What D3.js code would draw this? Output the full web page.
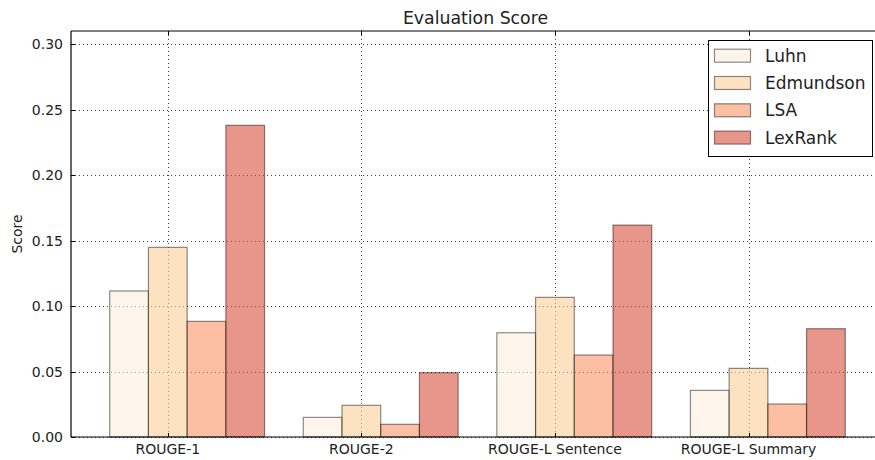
<!DOCTYPE html>
<html>
<head>
<meta charset="utf-8">
<script src="https://cdn.jsdelivr.net/npm/d3@7/dist/d3.min.js"></script>
<style>
  html, body { margin: 0; padding: 0; background: #fff; }
  svg { display: block; font-family: "DejaVu Sans", sans-serif; }
</style>
</head>
<body>
<svg id="chart" width="875" height="460"></svg>
<script>
// Categories and per-method scores
const categories = ["ROUGE-1", "ROUGE-2", "ROUGE-L Sentence", "ROUGE-L Summary"];
const methods = ["Luhn", "Edmundson", "LSA", "LexRank"];
const luhn      = [0.1115, 0.0150, 0.0796, 0.0356];
const edmundson = [0.1448, 0.0242, 0.1066, 0.0524];
const lsa       = [0.0883, 0.0097, 0.0626, 0.0252];
const lexrank   = [0.2380, 0.0491, 0.1618, 0.0827];
const series = [luhn, edmundson, lsa, lexrank];
const yTicks = [0.00, 0.05, 0.10, 0.15, 0.20, 0.25, 0.30];
const colors = ["#fceeda", "#facf96", "#fa9466", "#da503c"];

const svg = d3.select("#chart");
const plotL = 71, plotT = 31, plotB = 437, plotR = 884;
const barW = 0.2;

const x = d3.scaleLinear().domain([-0.3, 3.9]).range([plotL, plotR]);
const y = d3.scaleLinear().domain([0, 0.31]).range([plotB, plotT]);

// Grid lines
const grid = svg.append("g");
grid.selectAll("line.h").data(yTicks).join("line")
  .attr("x1", plotL).attr("x2", plotR)
  .attr("y1", d => Math.round(y(d)) + 0.5).attr("y2", d => Math.round(y(d)) + 0.5)
  .attr("stroke", "#000").attr("stroke-opacity", 0.75)
  .attr("stroke-dasharray", "1,3");
grid.selectAll("line.v").data(categories).join("line")
  .attr("x1", (d, i) => Math.round(x(i + barW)) + 0.5).attr("x2", (d, i) => Math.round(x(i + barW)) + 0.5)
  .attr("y1", plotT).attr("y2", plotB)
  .attr("stroke", "#000").attr("stroke-opacity", 0.75)
  .attr("stroke-dasharray", "1,3");

// Bars
series.forEach((vals, j) => {
  svg.append("g").selectAll("rect").data(vals).join("rect")
    .attr("x", (d, i) => x(i + j * barW - barW / 2))
    .attr("width", x(barW) - x(0))
    .attr("y", d => y(d))
    .attr("height", d => y(0) - y(d))
    .attr("fill", colors[j]).attr("fill-opacity", 0.6)
    .attr("stroke", "#000").attr("stroke-opacity", 0.45).attr("stroke-width", 1.2);
});

// Frame
const frame = svg.append("g").attr("stroke", "#000").attr("stroke-width", 1.2);
frame.append("line").attr("x1", plotL).attr("x2", plotL).attr("y1", plotT).attr("y2", plotB);
frame.append("line").attr("x1", plotL).attr("x2", plotR).attr("y1", plotT).attr("y2", plotT);
frame.append("line").attr("x1", plotL).attr("x2", plotR).attr("y1", plotB).attr("y2", plotB);
frame.append("line").attr("x1", plotR).attr("x2", plotR).attr("y1", plotT).attr("y2", plotB);

// Inward ticks
const ticks = svg.append("g").attr("stroke", "#000").attr("stroke-width", 1);
yTicks.forEach(t => {
  const yy = Math.round(y(t)) + 0.5;
  ticks.append("line").attr("x1", plotL).attr("x2", plotL + 4).attr("y1", yy).attr("y2", yy);
});
categories.forEach((c, i) => {
  const xx = Math.round(x(i + barW)) + 0.5;
  ticks.append("line").attr("x1", xx).attr("x2", xx).attr("y1", plotB).attr("y2", plotB - 4);
  ticks.append("line").attr("x1", xx).attr("x2", xx).attr("y1", plotT).attr("y2", plotT + 4);
});

// Axis labels
svg.append("g").selectAll("text").data(yTicks).join("text")
  .attr("x", plotL - 8).attr("y", d => y(d)).attr("dy", "0.36em")
  .attr("text-anchor", "end").attr("font-size", 14).attr("fill", "#222")
  .text(d => d3.format(".2f")(d));
svg.append("g").selectAll("text").data(categories).join("text")
  .attr("x", (d, i) => x(i + barW)).attr("y", 454)
  .attr("text-anchor", "middle").attr("font-size", 14).attr("fill", "#222")
  .text(d => d);

svg.append("text")
  .attr("transform", `translate(22,${(plotT + plotB) / 2}) rotate(-90)`)
  .attr("text-anchor", "middle").attr("font-size", 14).attr("fill", "#222")
  .text("Score");

svg.append("text")
  .attr("x", x(1.8) - 2).attr("y", 24)
  .attr("text-anchor", "middle").attr("font-size", 17.3).attr("fill", "#222")
  .text("Evaluation Score");

// Legend
const lg = svg.append("g").attr("transform", "translate(708,40)");
lg.append("rect").attr("x", 0.5).attr("y", 0.5).attr("width", 164).attr("height", 116)
  .attr("fill", "#fff").attr("stroke", "#000").attr("stroke-width", 1);
methods.forEach((m, j) => {
  const cy = 15.7 + j * 27.3;
  lg.append("rect").attr("x", 6.5).attr("y", cy - 6.5).attr("width", 36).attr("height", 13)
    .attr("fill", colors[j]).attr("fill-opacity", 0.6)
    .attr("stroke", "#000").attr("stroke-opacity", 0.45).attr("stroke-width", 1.2);
  lg.append("text").attr("x", 57).attr("y", cy).attr("dy", "0.36em")
    .attr("font-size", 17).attr("fill", "#222").text(m);
});
</script>
</body>
</html>
